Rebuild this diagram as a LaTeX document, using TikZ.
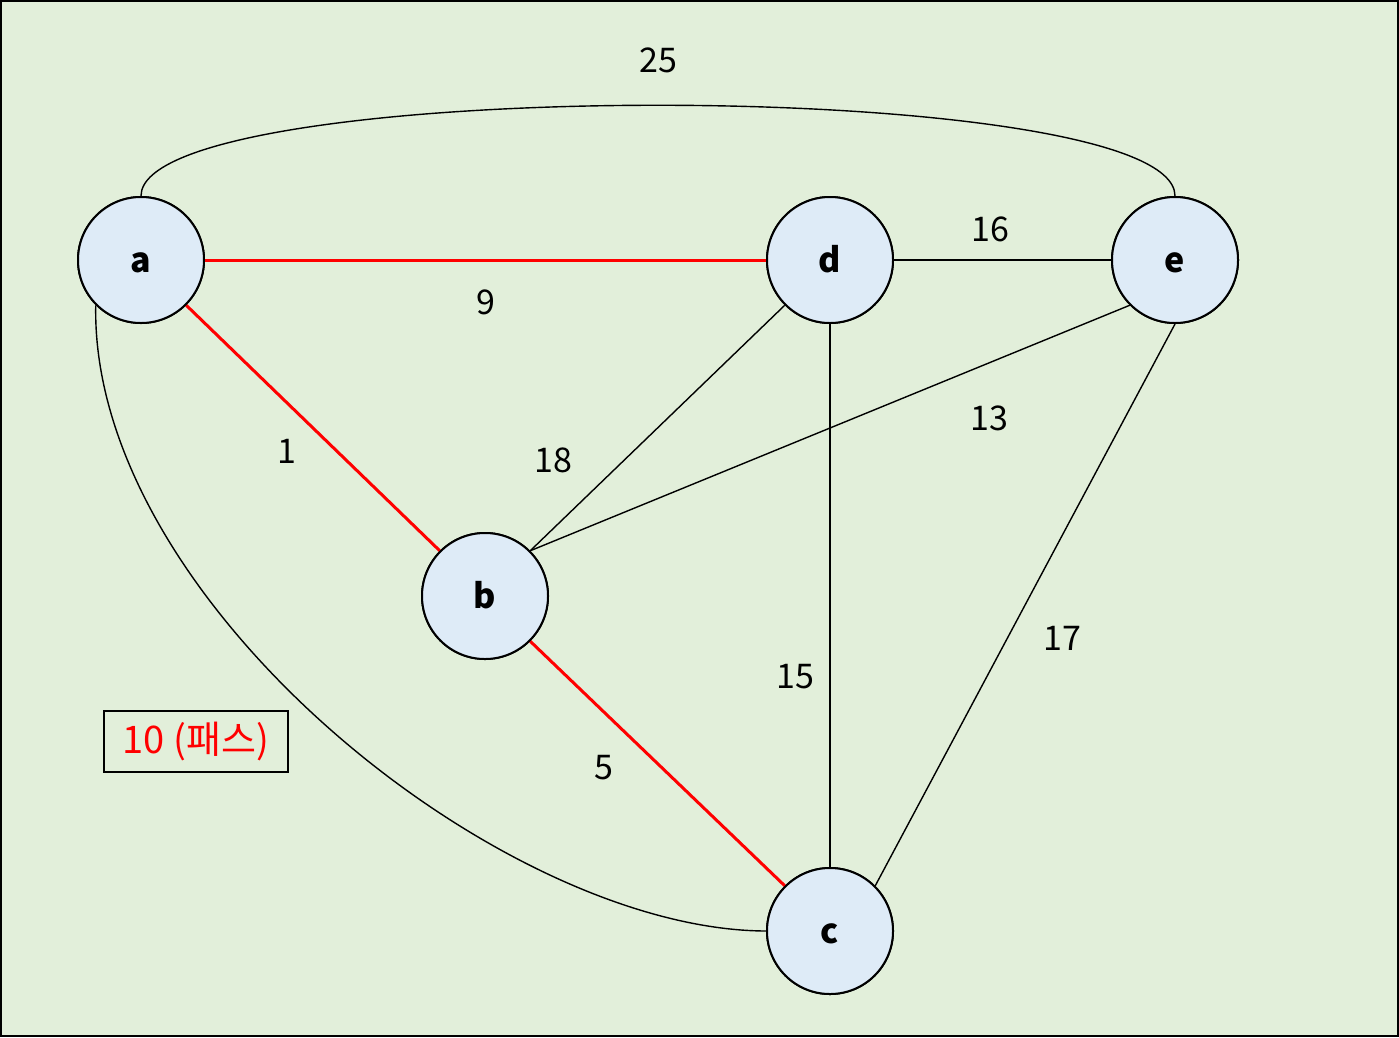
\documentclass[tikz,border=0pt]{standalone}
\usepackage{fontspec}
\setmainfont{Noto Sans CJK KR}
\begin{document}
\begin{tikzpicture}[x=1pt,y=-1pt,
  vert/.style={circle,draw=black,line width=2pt,fill=nodefill,minimum size=126pt,inner sep=0pt},
  vtxt/.style={inner sep=0pt,anchor=base,yshift=-12pt,font=\fontsize{34}{36}\selectfont\bfseries},
  edge/.style={line width=1.4pt,black},
  redge/.style={line width=3pt,red},
  wlab/.style={font=\fontsize{34}{36}\selectfont,inner sep=0pt}]
\definecolor{bgc}{HTML}{E2EFDA}
\definecolor{nodefill}{HTML}{DEEBF7}
\path[fill=bgc,draw=black,line width=2pt] (1,1) rectangle (1398,1036);
\useasboundingbox (0,0) rectangle (1399,1037);
\coordinate (a) at (141,260);
\coordinate (d) at (830,260);
\coordinate (e) at (1175,260);
\coordinate (b) at (485,596);
\coordinate (c) at (830,931);
\node[vert] (na) at (a) {};
\node[vert] (nd) at (d) {};
\node[vert] (ne) at (e) {};
\node[vert] (nb) at (b) {};
\node[vert] (nc) at (c) {};
% edges
\draw[edge] (na.90) .. controls (141,75) and (1175,75) .. (ne.90);
\draw[edge] (na.225) .. controls (90,600) and (500,930) .. (nc.180);
\draw[redge] (na) -- (nd);
\draw[edge] (nd) -- (ne);
\draw[redge] (na.315) -- (nb.135);
\draw[edge] (nb.45) -- (nd.225);
\draw[edge] (nb.45) -- (ne.225);
\draw[edge] (nd) -- (nc);
\draw[edge] (ne.270) -- (nc.45);
\draw[redge] (nb.315) -- (nc.135);
% redraw nodes on top
\node[vert] (a2) at (a) {};
\node[vert] (d2) at (d) {};
\node[vert] (e2) at (e) {};
\node[vert] (b2) at (b) {};
\node[vert] (c2) at (c) {};
\node[vtxt] (ta) at (a) {a};
\node[vtxt] (td) at (d) {d};
\node[vtxt] (te) at (e) {e};
\node[vtxt] (tb) at (b) {b};
\node[vtxt] (tc) at (c) {c};
% labels
\node[wlab] (l25) at (658,60) {25};
\node[wlab] (l16) at (990,229) {16};
\node[wlab] (l9) at (486,302) {9};
\node[wlab] (l13) at (989,418) {13};
\node[wlab] (l1) at (287,451) {1};
\node[wlab] (l18) at (553,460) {18};
\node[wlab] (l17) at (1062,638) {17};
\node[wlab] (l15) at (795,677) {15};
\node[wlab] (l5) at (604,768) {5};
\node[draw=black,line width=2pt,fill=bgc,minimum width=184pt,minimum height=61pt,inner sep=0pt,text=red,font=\fontsize{38}{40}\selectfont] (box) at (196,741) {10 (패스)};
\end{tikzpicture}
\end{document}
